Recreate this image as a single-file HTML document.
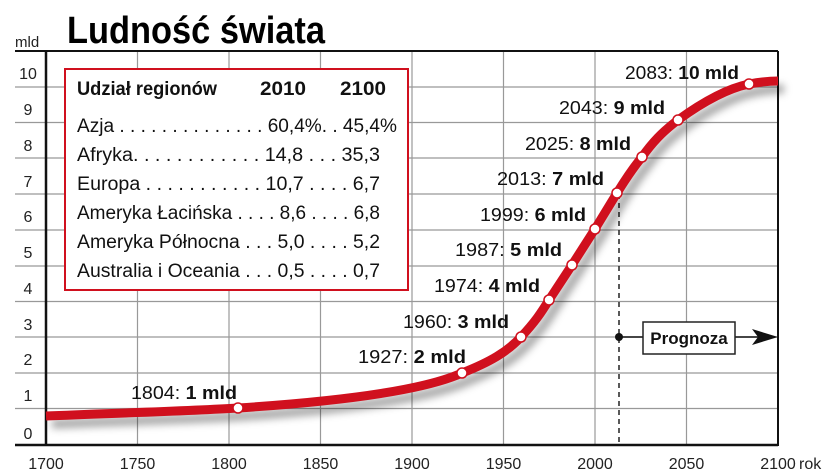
<!DOCTYPE html>
<html><head><meta charset="utf-8"><style>
html,body{margin:0;padding:0;background:#fff;}
svg{display:block;font-family:"Liberation Sans",sans-serif;}
</style></head><body>
<svg width="830" height="476" viewBox="0 0 830 476" xmlns="http://www.w3.org/2000/svg">
<defs><filter id="sh" x="-10%" y="-10%" width="120%" height="130%"><feGaussianBlur stdDeviation="4"/></filter></defs>
<text x="15" y="47" font-size="15" fill="#222">mld</text>
<text x="67" y="43" font-size="38" font-weight="bold" textLength="258" lengthAdjust="spacingAndGlyphs" fill="#000">Ludność świata</text>
<g stroke="#999" stroke-width="1.2">
<line x1="15" y1="87" x2="778" y2="87"/><line x1="15" y1="122.5" x2="778" y2="122.5"/><line x1="15" y1="158" x2="778" y2="158"/>
<line x1="15" y1="194" x2="778" y2="194"/><line x1="15" y1="230" x2="778" y2="230"/><line x1="15" y1="266" x2="778" y2="266"/>
<line x1="15" y1="301.5" x2="778" y2="301.5"/><line x1="15" y1="337" x2="778" y2="337"/><line x1="15" y1="373" x2="778" y2="373"/>
<line x1="15" y1="408.5" x2="778" y2="408.5"/>
<line x1="137.5" y1="51" x2="137.5" y2="445"/><line x1="229" y1="51" x2="229" y2="445"/><line x1="320.5" y1="51" x2="320.5" y2="445"/>
<line x1="412" y1="51" x2="412" y2="445"/><line x1="503.5" y1="51" x2="503.5" y2="445"/><line x1="595" y1="51" x2="595" y2="445"/>
<line x1="686.5" y1="51" x2="686.5" y2="445"/>
</g>
<line x1="15" y1="51" x2="778" y2="51" stroke="#111" stroke-width="2"/>
<line x1="46" y1="51" x2="46" y2="446" stroke="#111" stroke-width="2.5"/>
<line x1="15" y1="445" x2="778" y2="445" stroke="#111" stroke-width="2.5"/>
<line x1="778" y1="51" x2="778" y2="446" stroke="#111" stroke-width="2"/>
<g font-size="16" fill="#222" text-anchor="middle">
<text x="28" y="79">10</text><text x="28" y="115">9</text><text x="28" y="151">8</text><text x="28" y="187">7</text>
<text x="28" y="222">6</text><text x="28" y="258">5</text><text x="28" y="294">4</text><text x="28" y="330">3</text>
<text x="28" y="365">2</text><text x="28" y="401">1</text><text x="28" y="439">0</text>
<text x="46" y="469">1700</text><text x="137.5" y="469">1750</text><text x="229" y="469">1800</text><text x="320.5" y="469">1850</text>
<text x="412" y="469">1900</text><text x="503.5" y="469">1950</text><text x="595" y="469">2000</text><text x="686.5" y="469">2050</text>
<text x="778" y="469">2100</text>
</g>
<text x="799" y="469" font-size="16" fill="#222">rok</text>
<line x1="619" y1="194" x2="619" y2="445" stroke="#222" stroke-width="1.5" stroke-dasharray="5,4"/>
<path d="M46,416 C120,413 190,411 238,408 C330,402 420,392 462,373 C490,362 507,352 521,337 C535,322 541,313 549,300 L572,265 L595,229 L617,193 C625,180 633,168 642,157 C652,143 662,132 678,120 C700,104 725,89 749,84 C760,82 770,81 778,81" fill="none" stroke="#000" stroke-opacity="0.35" stroke-width="9" filter="url(#sh)" transform="translate(6,8)"/>
<path d="M46,416 C120,413 190,411 238,408 C330,402 420,392 462,373 C490,362 507,352 521,337 C535,322 541,313 549,300 L572,265 L595,229 L617,193 C625,180 633,168 642,157 C652,143 662,132 678,120 C700,104 725,89 749,84 C760,82 770,81 778,81" fill="none" stroke="#d0101e" stroke-width="9"/>
<g fill="#fff" stroke="#d0101e" stroke-width="1.5">
<circle cx="238" cy="408" r="5"/><circle cx="462" cy="373" r="5"/><circle cx="521" cy="337" r="5"/><circle cx="549" cy="300" r="5"/>
<circle cx="572" cy="265" r="5"/><circle cx="595" cy="229" r="5"/><circle cx="617" cy="193" r="5"/><circle cx="642" cy="157" r="5"/>
<circle cx="678" cy="120" r="5"/><circle cx="749" cy="84" r="5"/>
</g>
<g font-size="18" fill="#111">
<text x="131" y="399" textLength="106" lengthAdjust="spacingAndGlyphs">1804: <tspan font-weight="bold">1 mld</tspan></text>
<text x="358" y="363" textLength="108" lengthAdjust="spacingAndGlyphs">1927: <tspan font-weight="bold">2 mld</tspan></text>
<text x="403" y="328" textLength="106" lengthAdjust="spacingAndGlyphs">1960: <tspan font-weight="bold">3 mld</tspan></text>
<text x="434" y="292" textLength="106" lengthAdjust="spacingAndGlyphs">1974: <tspan font-weight="bold">4 mld</tspan></text>
<text x="455" y="256" textLength="107" lengthAdjust="spacingAndGlyphs">1987: <tspan font-weight="bold">5 mld</tspan></text>
<text x="480" y="221" textLength="106" lengthAdjust="spacingAndGlyphs">1999: <tspan font-weight="bold">6 mld</tspan></text>
<text x="497" y="185" textLength="107" lengthAdjust="spacingAndGlyphs">2013: <tspan font-weight="bold">7 mld</tspan></text>
<text x="525" y="150" textLength="106" lengthAdjust="spacingAndGlyphs">2025: <tspan font-weight="bold">8 mld</tspan></text>
<text x="559" y="114" textLength="106" lengthAdjust="spacingAndGlyphs">2043: <tspan font-weight="bold">9 mld</tspan></text>
<text x="625" y="79" textLength="114" lengthAdjust="spacingAndGlyphs">2083: <tspan font-weight="bold">10 mld</tspan></text>
</g>
<circle cx="619" cy="337" r="4" fill="#111"/>
<line x1="619" y1="337" x2="760" y2="337" stroke="#111" stroke-width="1.5"/>
<path d="M752,329 L778,337 L752,345 L758,337 Z" fill="#111"/>
<rect x="643" y="322" width="92" height="32" fill="#fff" stroke="#222" stroke-width="1.5"/>
<text x="689" y="344" font-size="17" font-weight="bold" text-anchor="middle" fill="#111">Prognoza</text>
<rect x="65" y="69" width="343" height="221" fill="#fff" stroke="#d0101e" stroke-width="2"/>
<g font-size="19" fill="#111">
<text x="77" y="95" font-weight="bold" textLength="140" lengthAdjust="spacingAndGlyphs">Udział regionów</text>
<text x="260" y="95" font-weight="bold" textLength="46" lengthAdjust="spacingAndGlyphs">2010</text>
<text x="340" y="95" font-weight="bold" textLength="46" lengthAdjust="spacingAndGlyphs">2100</text>
<text x="77" y="132" textLength="320" lengthAdjust="spacingAndGlyphs">Azja . . . . . . . . . . . . . . 60,4%. . 45,4%</text>
<text x="77" y="161" textLength="303" lengthAdjust="spacingAndGlyphs">Afryka. . . . . . . . . . . . 14,8 . . . 35,3</text>
<text x="77" y="190" textLength="303" lengthAdjust="spacingAndGlyphs">Europa . . . . . . . . . . . 10,7 . . . . 6,7</text>
<text x="77" y="219" textLength="303" lengthAdjust="spacingAndGlyphs">Ameryka Łacińska . . . . 8,6 . . . . 6,8</text>
<text x="77" y="248" textLength="303" lengthAdjust="spacingAndGlyphs">Ameryka Północna . . . 5,0 . . . . 5,2</text>
<text x="77" y="277" textLength="303" lengthAdjust="spacingAndGlyphs">Australia i Oceania . . . 0,5 . . . . 0,7</text>
</g>
</svg>
</body></html>
